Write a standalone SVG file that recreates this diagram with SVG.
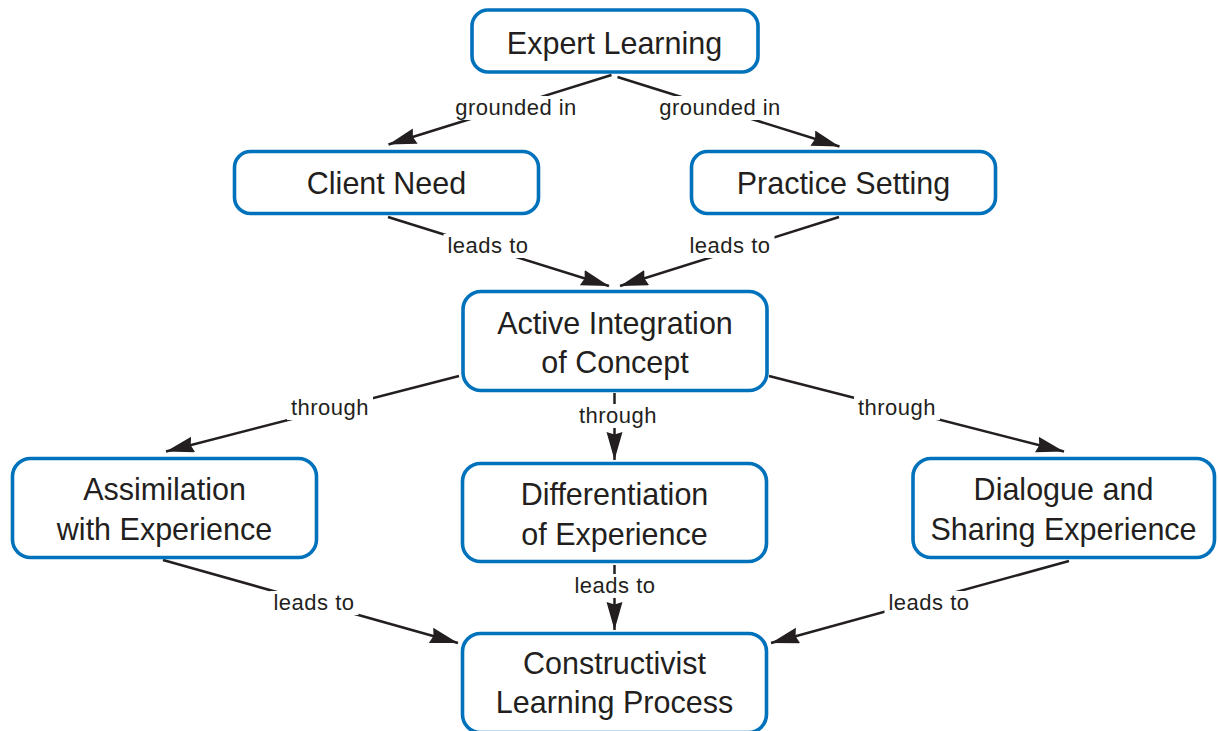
<svg xmlns="http://www.w3.org/2000/svg" width="1218" height="731" viewBox="0 0 1218 731">
<style>
.box{fill:#ffffff;stroke:#0071bb;stroke-width:3.6}
.nt{font-family:"Liberation Sans",Arial,Helvetica,sans-serif;font-size:30.5px;fill:#231f20;text-anchor:middle}
.conn{fill:none;stroke:#231f20;stroke-width:2.5}
.lb{fill:#ffffff;stroke:none}
.lt{font-family:"Liberation Sans",Arial,Helvetica,sans-serif;font-size:22px;letter-spacing:0.5px;fill:#231f20;text-anchor:middle}
</style>
<defs>
<marker id="ah" markerUnits="userSpaceOnUse" markerWidth="30" markerHeight="18" refX="28" refY="8" orient="auto">
<path d="M0,0 L28,8 L0,16 L2.5,8 Z" fill="#231f20"/>
</marker>
</defs>
<rect width="1218" height="731" fill="#ffffff"/>
<g id="connectors">
<path class="conn" d="M611.5,75 L388.5,144.5" marker-end="url(#ah)"/>
<path class="conn" d="M617.5,77 L839.5,146.5" marker-end="url(#ah)"/>
<path class="conn" d="M388,217 L609,286" marker-end="url(#ah)"/>
<path class="conn" d="M839,217 L620,286" marker-end="url(#ah)"/>
<path class="conn" d="M459,376 L166,451.5" marker-end="url(#ah)"/>
<path class="conn" d="M614.5,393 L614.5,460" marker-end="url(#ah)"/>
<path class="conn" d="M769,376 L1064,451.5" marker-end="url(#ah)"/>
<path class="conn" d="M163,560 L458,643" marker-end="url(#ah)"/>
<path class="conn" d="M614.5,565 L614.5,630" marker-end="url(#ah)"/>
<path class="conn" d="M1069,561 L771,643" marker-end="url(#ah)"/>
<rect class="lb" x="452" y="96" width="128" height="24"/>
<text class="lt" x="516" y="115">grounded in</text>
<rect class="lb" x="656" y="96" width="128" height="24"/>
<text class="lt" x="720" y="115">grounded in</text>
<rect class="lb" x="443.5" y="234" width="89" height="24"/>
<text class="lt" x="488" y="253">leads to</text>
<rect class="lb" x="685.5" y="234" width="89" height="24"/>
<text class="lt" x="730" y="253">leads to</text>
<rect class="lb" x="287" y="396" width="86" height="24"/>
<text class="lt" x="330" y="415">through</text>
<rect class="lb" x="575" y="404" width="86" height="24"/>
<text class="lt" x="618" y="423">through</text>
<rect class="lb" x="854" y="396" width="86" height="24"/>
<text class="lt" x="897" y="415">through</text>
<rect class="lb" x="269.5" y="591" width="89" height="24"/>
<text class="lt" x="314" y="610">leads to</text>
<rect class="lb" x="570.5" y="574" width="89" height="24"/>
<text class="lt" x="615" y="593">leads to</text>
<rect class="lb" x="884.5" y="591" width="89" height="24"/>
<text class="lt" x="929" y="610">leads to</text>
</g>
<g id="expert-learning">
<rect class="box" x="472" y="10" width="286" height="62" rx="16"/>
<text class="nt" x="614.5" y="53.5">Expert Learning</text>
</g>
<g id="client-need">
<rect class="box" x="234.5" y="151.5" width="304" height="62" rx="16"/>
<text class="nt" x="386.5" y="193.5">Client Need</text>
</g>
<g id="practice-setting">
<rect class="box" x="691.5" y="151.5" width="304" height="62" rx="16"/>
<text class="nt" x="843.5" y="193.5">Practice Setting</text>
</g>
<g id="active-integration">
<rect class="box" x="463" y="291.5" width="304" height="99" rx="18"/>
<text class="nt" x="615" y="334">Active Integration</text>
<text class="nt" x="615" y="372.7">of Concept</text>
</g>
<g id="assimilation">
<rect class="box" x="12.5" y="458.5" width="304" height="99" rx="18"/>
<text class="nt" x="164.5" y="500">Assimilation</text>
<text class="nt" x="164.5" y="540">with Experience</text>
</g>
<g id="differentiation">
<rect class="box" x="462.5" y="463.5" width="304" height="98" rx="18"/>
<text class="nt" x="614.5" y="505">Differentiation</text>
<text class="nt" x="614.5" y="545">of Experience</text>
</g>
<g id="dialogue">
<rect class="box" x="913" y="458.5" width="301.5" height="99" rx="18"/>
<text class="nt" x="1063.5" y="500">Dialogue and</text>
<text class="nt" x="1063.5" y="540">Sharing Experience</text>
</g>
<g id="constructivist">
<rect class="box" x="462.5" y="633.5" width="304" height="99" rx="18"/>
<text class="nt" x="614.5" y="674">Constructivist</text>
<text class="nt" x="614.5" y="712.7">Learning Process</text>
</g>
</svg>
